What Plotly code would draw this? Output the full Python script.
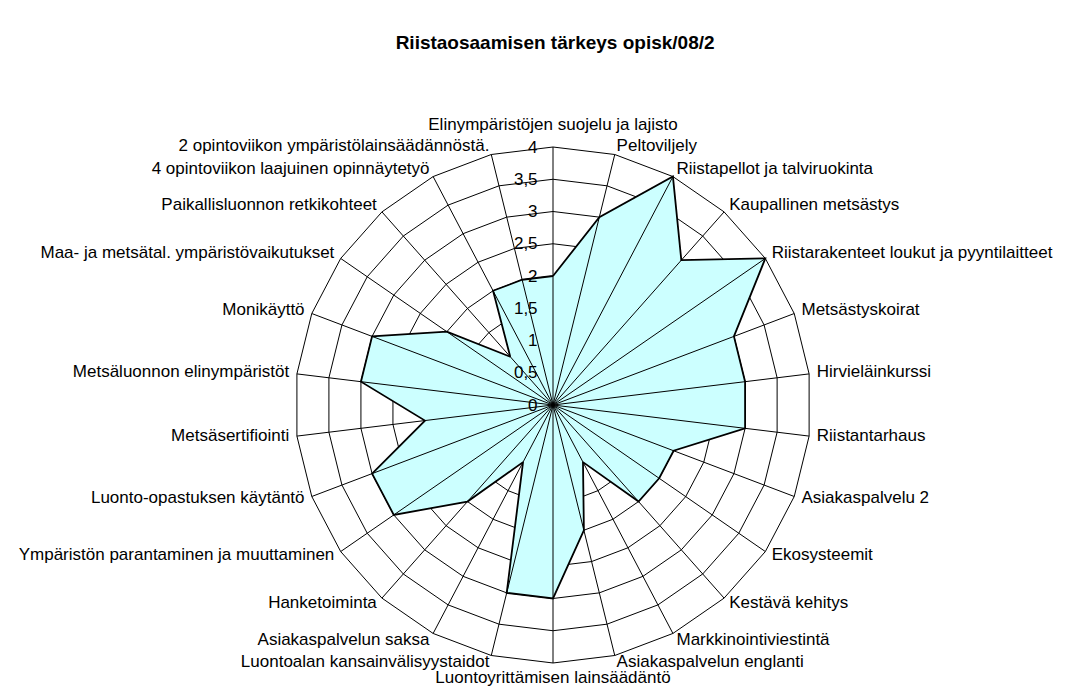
import plotly.graph_objects as go

title = "Riistaosaamisen tärkeys opisk/08/2"

categories = [
    "Elinympäristöjen suojelu ja lajisto",
    "Peltoviljely",
    "Riistapellot ja talviruokinta",
    "Kaupallinen metsästys",
    "Riistarakenteet loukut ja pyyntilaitteet",
    "Metsästyskoirat",
    "Hirvieläinkurssi",
    "Riistantarhaus",
    "Asiakaspalvelu 2",
    "Ekosysteemit",
    "Kestävä kehitys",
    "Markkinointiviestintä",
    "Asiakaspalvelun englanti",
    "Luontoyrittämisen lainsäädäntö",
    "Luontoalan kansainvälisyystaidot",
    "Asiakaspalvelun saksa",
    "Hanketoiminta",
    "Ympäristön parantaminen ja muuttaminen",
    "Luonto-opastuksen käytäntö",
    "Metsäsertifiointi",
    "Metsäluonnon elinympäristöt",
    "Monikäyttö",
    "Maa- ja metsätal. ympäristövaikutukset",
    "Paikallisluonnon retkikohteet",
    "4 opintoviikon laajuinen opinnäytetyö",
    "2 opintoviikon ympäristölainsäädännöstä.",
]

values = [2, 3, 4, 3, 4, 3, 3, 3, 2, 2, 2, 1, 2, 3, 3, 1, 2, 3, 3, 2, 3, 3, 2, 1, 2, 2]

tick_values = [0, 0.5, 1, 1.5, 2, 2.5, 3, 3.5, 4]
tick_labels = ["0", "0,5", "1", "1,5", "2", "2,5", "3", "3,5", "4"]

FONT = "Liberation Sans, Arial, sans-serif"
r_max = tick_values[-1]
label_r = r_max * 1.03      # category labels sit just outside the outer ring
axis_max = r_max * 1.06     # invisible headroom so every label stays in range

n = len(categories)
positions, label_radii = [], []
for i in range(n):
    ang = i * 360.0 / n
    if abs(ang) < 1e-6:
        positions.append("top center")
        label_radii.append(label_r + 0.08)
    elif abs(ang - 180) < 1e-6:
        positions.append("bottom center")
        label_radii.append(label_r)
    elif ang < 180:
        positions.append("middle right")
        label_radii.append(label_r)
    else:
        positions.append("middle left")
        label_radii.append(label_r)

fig = go.Figure()

# filled area
fig.add_trace(go.Scatterpolar(
    r=values + values[:1], theta=categories + categories[:1],
    mode="lines", fill="toself", fillcolor="#CCFFFF",
    line=dict(color="rgba(0,0,0,0)", width=0),
    hoverinfo="skip", showlegend=False,
))

# spokes (category axis lines) drawn above the fill
spoke_r, spoke_t = [], []
for c in categories:
    spoke_r += [0, r_max, None]
    spoke_t += [c, c, c]
fig.add_trace(go.Scatterpolar(
    r=spoke_r, theta=spoke_t, mode="lines",
    line=dict(color="black", width=1), connectgaps=False,
    hoverinfo="skip", showlegend=False,
))

# outline
fig.add_trace(go.Scatterpolar(
    r=values + values[:1], theta=categories + categories[:1],
    mode="lines", line=dict(color="black", width=1.8),
    showlegend=False,
))

# category labels
fig.add_trace(go.Scatterpolar(
    r=label_radii, theta=categories, text=categories,
    mode="text", textposition=positions, cliponaxis=False,
    textfont=dict(size=17, family=FONT, color="black"),
    hoverinfo="skip", showlegend=False,
))

fig.update_layout(
    width=1077, height=694,
    paper_bgcolor="white", plot_bgcolor="white",
    margin=dict(l=0, r=0, t=0, b=0),
    font=dict(family=FONT, size=17, color="black"),
    title=dict(text="<b>" + title + "</b>", x=0.508, xanchor="center",
               y=0.95, yanchor="middle", font=dict(size=19, family=FONT)),
    polar=dict(
        domain=dict(x=[0.2521, 0.7600], y=[0.0339, 0.8220]),
        bgcolor="white",
        gridshape="linear",
        radialaxis=dict(
            range=[0, axis_max], angle=90, tickangle=90,
            tickvals=tick_values, ticktext=tick_labels,
            showgrid=True, gridcolor="black", gridwidth=1,
            showline=False,
            ticks="outside", ticklen=9, tickcolor="rgba(0,0,0,0)",
            side="counterclockwise",
            tickfont=dict(size=17, family=FONT),
        ),
        angularaxis=dict(
            type="category", categoryarray=categories,
            rotation=90, direction="clockwise",
            showgrid=False, showline=False, showticklabels=False,
            ticks="",
        ),
    ),
)

fig.write_html("out.html")
